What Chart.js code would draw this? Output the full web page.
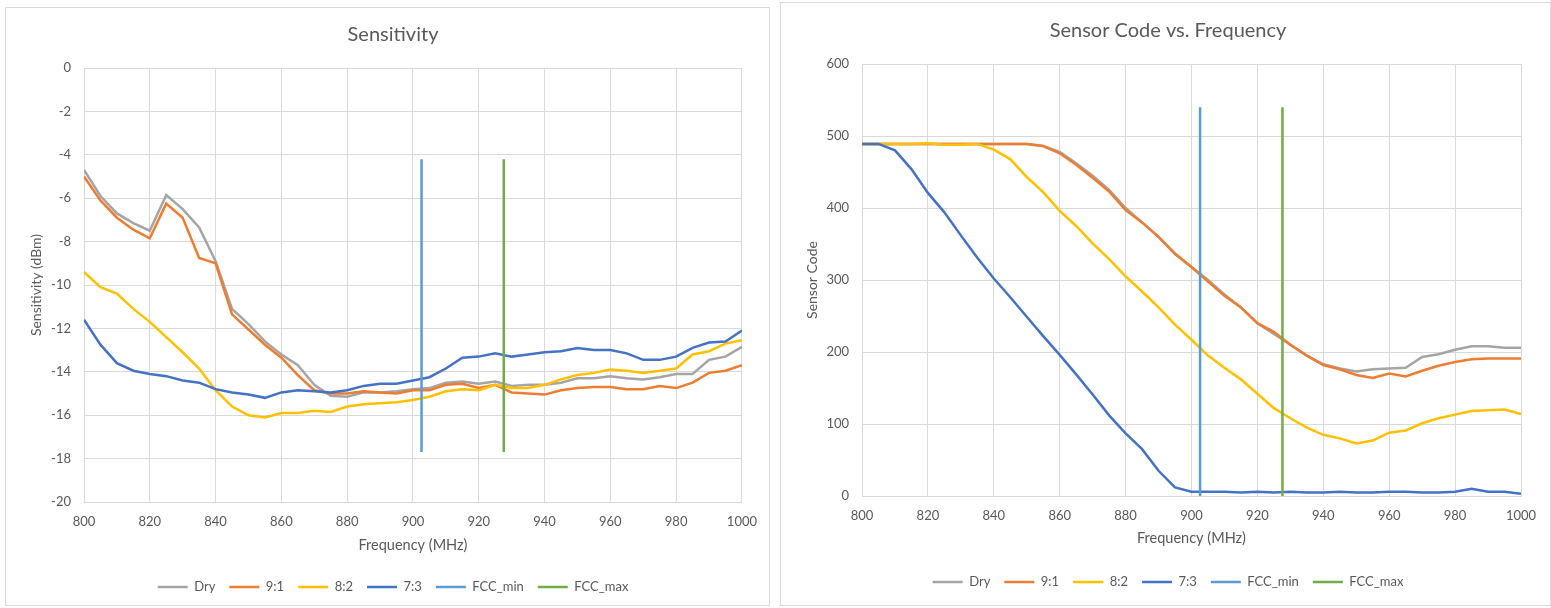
<!DOCTYPE html>
<html lang="en">
<head>
<meta charset="UTF-8" />
<title>Sensitivity and Sensor Code vs. Frequency</title>
<script src="https://cdn.jsdelivr.net/npm/chart.js"></script>
<style>
  body {
    margin: 0;
    background: #ffffff;
    font-family: 'Lato', sans-serif;
  }
  .box {
    position: absolute;
    border: 1px solid #d9d9d9;
    background: #ffffff;
  }
  #leftBox { left: 5px; top: 7px; width: 763px; height: 597px; }
  #rightBox { left: 780px; top: 2px; width: 769px; height: 602px; }
  canvas { display: block; }
</style>
</head>
<body>
<div class="box" id="leftBox"><canvas id="sensChart" width="763" height="597"></canvas></div>
<div class="box" id="rightBox"><canvas id="codeChart" width="769" height="602"></canvas></div>

<script>
// frequency points (MHz)
const freq = [800, 805, 810, 815, 820, 825, 830, 835, 840, 845, 850, 855, 860, 865, 870, 875, 880, 885, 890, 895,
  900, 905, 910, 915, 920, 925, 930, 935, 940, 945, 950, 955, 960, 965, 970, 975, 980, 985, 990, 995, 1000];

// Sensitivity (dBm)
const sensDry = [-4.7, -5.9, -6.7, -7.15, -7.5, -5.85, -6.5, -7.35, -8.9, -11.1, -11.8, -12.6, -13.2, -13.7, -14.6, -15.1, -15.15, -14.95, -14.95, -14.9,
  -14.8, -14.75, -14.5, -14.45, -14.55, -14.45, -14.65, -14.6, -14.6, -14.5, -14.3, -14.3, -14.2, -14.3, -14.35, -14.25, -14.1, -14.1, -13.45, -13.3, -12.85];
const sens91 = [-5.0, -6.1, -6.9, -7.45, -7.85, -6.25, -6.9, -8.75, -9.0, -11.35, -12.05, -12.75, -13.35, -14.15, -14.85, -15.0, -15.0, -14.9, -14.95, -15.0,
  -14.85, -14.85, -14.6, -14.55, -14.75, -14.6, -14.95, -15.0, -15.05, -14.85, -14.75, -14.7, -14.7, -14.8, -14.8, -14.65, -14.75, -14.5, -14.05, -13.95, -13.7];
const sens82 = [-9.4, -10.1, -10.4, -11.1, -11.7, -12.4, -13.1, -13.85, -14.85, -15.6, -16.0, -16.1, -15.9, -15.9, -15.8, -15.85, -15.6, -15.5, -15.45, -15.4,
  -15.3, -15.15, -14.9, -14.8, -14.85, -14.6, -14.75, -14.75, -14.6, -14.35, -14.15, -14.05, -13.9, -13.95, -14.05, -13.95, -13.85, -13.2, -13.05, -12.7, -12.55];
const sens73 = [-11.6, -12.75, -13.6, -13.95, -14.1, -14.2, -14.4, -14.5, -14.8, -14.95, -15.05, -15.2, -14.95, -14.85, -14.9, -14.95, -14.85, -14.65, -14.55, -14.55,
  -14.4, -14.25, -13.85, -13.35, -13.3, -13.15, -13.3, -13.2, -13.1, -13.05, -12.9, -13.0, -13.0, -13.15, -13.45, -13.45, -13.3, -12.9, -12.65, -12.6, -12.1];

// Sensor code
const codeDry = [489, 489, 489, 489, 489, 489, 489, 489, 489, 489, 489, 486, 478, 462, 445, 425, 400, 380, 360, 337,
  318, 300, 280, 262, 240, 225, 210, 195, 183, 177, 173, 176, 177, 178, 193, 197, 203, 208, 208, 206, 206];
const code91 = [489, 489, 489, 489, 489, 489, 489, 489, 489, 489, 489, 486, 476, 460, 442, 423, 397, 380, 360, 336,
  318, 298, 278, 262, 240, 228, 210, 195, 182, 176, 168, 164, 170, 166, 174, 181, 186, 190, 191, 191, 191];
const code82 = [489, 489, 489, 489, 490, 488, 488, 489, 481, 468, 443, 422, 396, 375, 351, 329, 305, 284, 262, 238,
  217, 195, 178, 162, 142, 122, 108, 95, 85, 80, 73, 77, 88, 91, 101, 108, 113, 118, 119, 120, 114];
const code73 = [489, 489, 480, 454, 421, 394, 362, 331, 302, 276, 249, 222, 196, 169, 141, 112, 87, 65, 35, 12,
  6, 6, 6, 5, 6, 5, 6, 5, 5, 6, 5, 5, 6, 6, 5, 5, 6, 10, 6, 6, 3];

// FCC band markers
const fccMin = 902.6;
const fccMax = 927.6;
const sensMarkerY = [-4.2, -17.7];
const codeMarkerY = [540, 0];

// tick labels
const freqTicks = [800, 820, 840, 860, 880, 900, 920, 940, 960, 980, 1000];
const sensTicks = [0, -2, -4, -6, -8, -10, -12, -14, -16, -18, -20];
const codeTicks = [0, 100, 200, 300, 400, 500, 600];

const textColor = '#595959';
const gridColor = '#d9d9d9';
const colors = {
  dry: '#a5a5a5', r91: '#ed7d31', r82: '#ffc000', r73: '#4472c4', fccMin: '#5b9bd5', fccMax: '#70ad47'
};

function pts(ys) {
  return ys.map((y, i) => ({ x: freq[i], y: y }));
}
function marker(x, ys) {
  return ys.map(y => ({ x: x, y: y }));
}
// later series are drawn on top, like Excel does
function line(label, data, color, order) {
  return {
    label: label, data: data, borderColor: color, backgroundColor: color,
    borderWidth: 2.5, pointRadius: 0, tension: 0, order: order
  };
}

function makeChart(id, o) {
  new Chart(document.getElementById(id), {
    type: 'line',
    data: {
      datasets: [
        line('Dry', pts(o.series[0]), colors.dry, 6),
        line('9:1', pts(o.series[1]), colors.r91, 5),
        line('8:2', pts(o.series[2]), colors.r82, 4),
        line('7:3', pts(o.series[3]), colors.r73, 3),
        line('FCC_min', marker(fccMin, o.markerY), colors.fccMin, 2),
        line('FCC_max', marker(fccMax, o.markerY), colors.fccMax, 1)
      ]
    },
    options: {
      responsive: false,
      animation: false,
      // left padding centres title and legend like the Excel chart area
      layout: { padding: { left: 34, right: o.padRight, top: 0, bottom: o.padBottom } },
      plugins: {
        title: {
          display: true, text: o.title, color: textColor,
          font: { family: 'Lato', size: 20, weight: 'normal' },
          padding: { top: o.titleTop, bottom: o.titleBottom }
        },
        legend: {
          position: 'bottom',
          labels: {
            color: textColor, font: { family: 'Lato', size: 13 },
            boxWidth: 30, boxHeight: 0, padding: 14,
            sort: (a, b) => a.datasetIndex - b.datasetIndex
          }
        },
        tooltip: { enabled: false }
      },
      scales: {
        x: {
          type: 'linear', min: 800, max: 1000,
          afterBuildTicks: s => { s.ticks = freqTicks.map(v => ({ value: v })); },
          afterFit: s => { s.height = o.xHeight; },
          ticks: { color: textColor, font: { family: 'Lato', size: 13 }, padding: 12, callback: v => String(v) },
          grid: { color: gridColor, drawTicks: false },
          border: { color: gridColor },
          title: {
            display: true, text: 'Frequency (MHz)', color: textColor,
            font: { family: 'Lato', size: 14.5 }, padding: { top: 0, bottom: o.xTitlePad }
          }
        },
        y: {
          min: o.yMin, max: o.yMax,
          afterBuildTicks: s => { s.ticks = o.yTicks.map(v => ({ value: v })); },
          afterFit: s => { s.width = o.yWidth; },
          ticks: { color: textColor, font: { family: 'Lato', size: 13 }, padding: 13, callback: v => String(v) },
          grid: { color: gridColor, drawTicks: false },
          border: { color: gridColor },
          title: {
            display: true, text: o.yTitle, color: textColor,
            font: { family: 'Lato', size: 14 }, padding: { top: o.yTitlePad, bottom: 0 }
          }
        }
      }
    }
  });
}

makeChart('sensChart', {
  title: 'Sensitivity', yTitle: 'Sensitivity (dBm)',
  series: [sensDry, sens91, sens82, sens73], markerY: sensMarkerY,
  yMin: -20, yMax: 0, yTicks: sensTicks,
  padRight: 23, padBottom: 1.5, titleTop: 15, titleBottom: 21,
  xHeight: 64.5, xTitlePad: 12.8, yWidth: 44, yTitlePad: -12.4
});

makeChart('codeChart', {
  title: 'Sensor Code vs. Frequency', yTitle: 'Sensor Code',
  series: [codeDry, code91, code82, code73], markerY: codeMarkerY,
  yMin: 0, yMax: 600, yTicks: codeTicks,
  padRight: 29, padBottom: 6.5, titleTop: 16, titleBottom: 21,
  xHeight: 65.5, xTitlePad: 14.8, yWidth: 47, yTitlePad: -11.4
});
</script>
</body>
</html>
